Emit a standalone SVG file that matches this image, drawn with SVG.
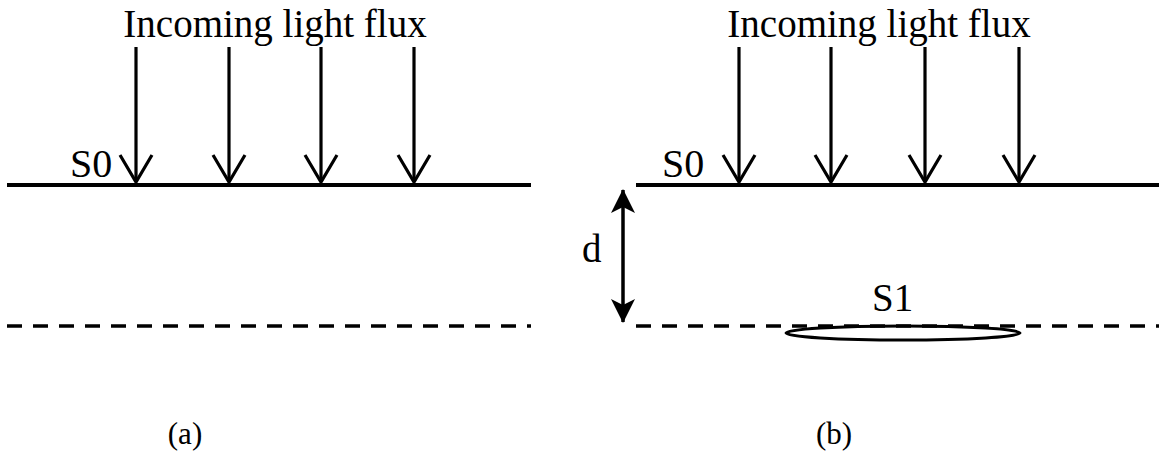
<svg xmlns="http://www.w3.org/2000/svg" width="1170" height="467" viewBox="0 0 1170 467">
<style>
.t{font-family:"Liberation Serif","Times New Roman",serif;font-size:39px;fill:#000}
.c{font-family:"Liberation Serif","Times New Roman",serif;font-size:31px;fill:#000}
.s{stroke:#000;stroke-width:4;fill:none}
.d{stroke:#000;stroke-width:3.5;fill:none;stroke-dasharray:15 11}
.a{stroke:#000;stroke-width:3.2;fill:none}
</style>
<defs>
<g id="ray">
<line x1="0" y1="47" x2="0" y2="182" class="a"/>
<polyline points="-16,155 0,182 16,155" class="a"/>
</g>
<marker id="dh" viewBox="0 0 24 24" refX="23" refY="12" markerWidth="24" markerHeight="24" markerUnits="userSpaceOnUse" orient="auto-start-reverse">
<path d="M0,0 L24,12 L0,24 L6,12 Z" fill="#000"/>
</marker>
</defs>
<g id="panel-a">
<text class="t" x="275" y="37" text-anchor="middle">Incoming light flux</text>
<use href="#ray" x="136"/>
<use href="#ray" x="229"/>
<use href="#ray" x="321"/>
<use href="#ray" x="414"/>
<text class="t" x="70" y="177" style="font-size:40px">S0</text>
<line x1="7" y1="185" x2="531" y2="185" class="s"/>
<line x1="7" y1="326" x2="531" y2="326" class="d"/>
<text class="c" x="185" y="444" text-anchor="middle">(a)</text>
</g>
<g id="panel-b">
<text class="t" x="879" y="37" text-anchor="middle">Incoming light flux</text>
<use href="#ray" x="739"/>
<use href="#ray" x="831"/>
<use href="#ray" x="925"/>
<use href="#ray" x="1019"/>
<text class="t" x="662" y="177" style="font-size:40px">S0</text>
<line x1="636" y1="185" x2="1159" y2="185" class="s"/>
<line x1="636" y1="326" x2="1159" y2="326" class="d"/>
<text class="t" x="582" y="262">d</text>
<text class="t" x="872" y="311">S1</text>
<ellipse cx="903" cy="333" rx="117" ry="7" stroke="#000" stroke-width="3" fill="none"/>
<text class="c" x="834" y="444" text-anchor="middle">(b)</text>
</g>
<g id="connectors">
<line x1="623" y1="190" x2="623" y2="322" stroke="#000" stroke-width="3.5" marker-start="url(#dh)" marker-end="url(#dh)"/>
</g>
</svg>
